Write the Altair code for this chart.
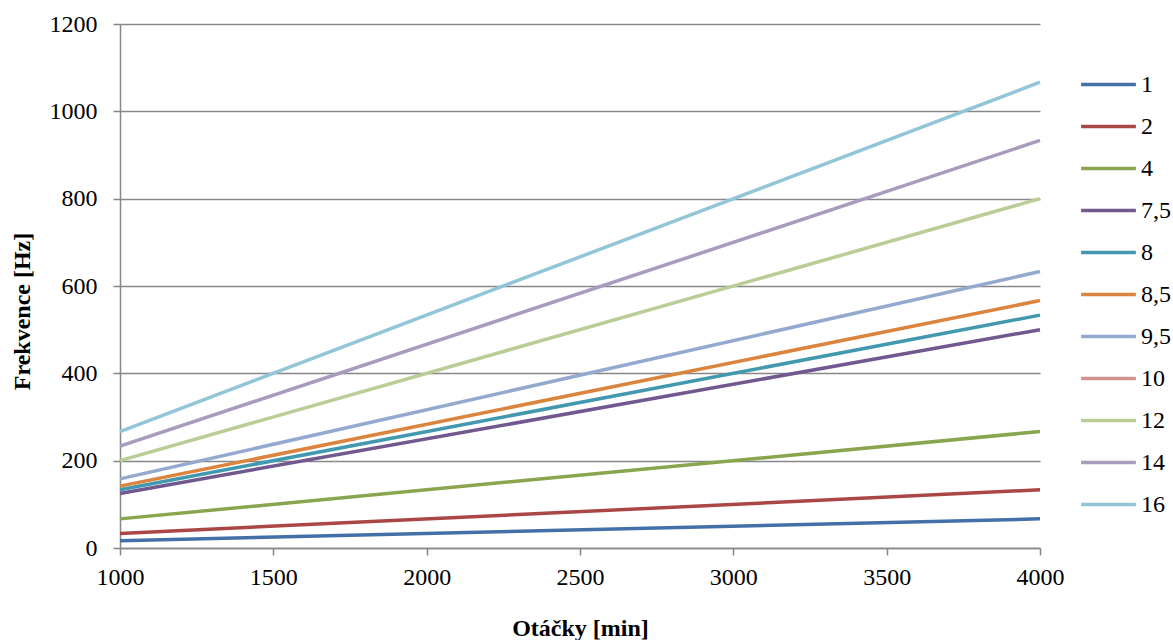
import altair as alt
import pandas as pd

series = ["1", "2", "4", "7,5", "8", "8,5", "9,5", "10", "12", "14", "16"]
colors = ["#4470AA", "#AA4643", "#89A54E", "#71588F", "#4198AF", "#DB843D",
          "#93A9CF", "#D19392", "#B9CD96", "#A99BBD", "#92C5D8"]
rpm = [1000, 4000]
start_hz = [16.7, 33.3, 66.7, 125.0, 133.3, 141.7, 158.3, None, 200.0, 233.3, 266.7]
end_hz = [66.7, 133.3, 266.7, 500.0, 533.3, 566.7, 633.3, None, 800.0, 933.3, 1066.7]

rows = []
for i, s in enumerate(series):
    if start_hz[i] is None:
        continue
    rows.append({"s": s, "idx": i, "x": rpm[0], "y": start_hz[i]})
    rows.append({"s": s, "idx": i, "x": rpm[1], "y": end_hz[i]})
df = pd.DataFrame(rows)

FONT = "Liberation Serif"
GRAY = "#878787"

chart = alt.Chart(df).mark_line(strokeWidth=3.5, strokeCap="butt").encode(
    x=alt.X("x:Q", scale=alt.Scale(domain=[1000, 4000], nice=False, zero=False),
            axis=alt.Axis(title="Otáčky [min]", values=[1000, 1500, 2000, 2500, 3000, 3500, 4000],
                          format="d", grid=False, tickSize=7, labelPadding=10, labelFlush=False,
                          titleY=80, titleBaseline="middle")),
    y=alt.Y("y:Q", scale=alt.Scale(domain=[0, 1200], nice=False),
            axis=alt.Axis(title="Frekvence [Hz]", values=[0, 200, 400, 600, 800, 1000, 1200],
                          format="d", grid=True, tickSize=7, labelPadding=16, labelFlush=False,
                          titleX=-98, titleY=287, titleBaseline="middle", titleAngle=-90)),
    color=alt.Color("s:N", scale=alt.Scale(domain=series, range=colors),
                    legend=alt.Legend(title=None, orient="none", legendX=959, legendY=31,
                                      symbolType="stroke", symbolSize=3000,
                                      symbolStrokeWidth=3.5, labelFont=FONT, labelFontSize=24,
                                      labelColor="black",
                                      labelOffset=3, rowPadding=0, labelLimit=200)),
    detail="s:N",
    order="idx:Q",
).properties(
    width=920, height=524,
    autosize=alt.AutoSizeParams(type="none"),
    padding={"left": 120, "top": 24, "right": 133, "bottom": 92},
).configure(
    font=FONT, background="white",
    style={"guide-label": {"font": FONT, "fontSize": 24, "fill": "black"}},
).configure_view(stroke=None).configure_axis(
    labelFont=FONT, labelFontSize=24, labelColor="black",
    titleFont=FONT, titleFontSize=24, titleFontWeight="bold", titleColor="black",
    domainColor=GRAY, domainWidth=1.5, tickColor=GRAY, tickWidth=1.5,
    gridColor=GRAY, gridWidth=1.5,
).configure_legend(
    labelFont=FONT, labelFontSize=24, labelColor="black",
)

chart.save("out.html", embed_options={"renderer": "svg", "actions": False})
